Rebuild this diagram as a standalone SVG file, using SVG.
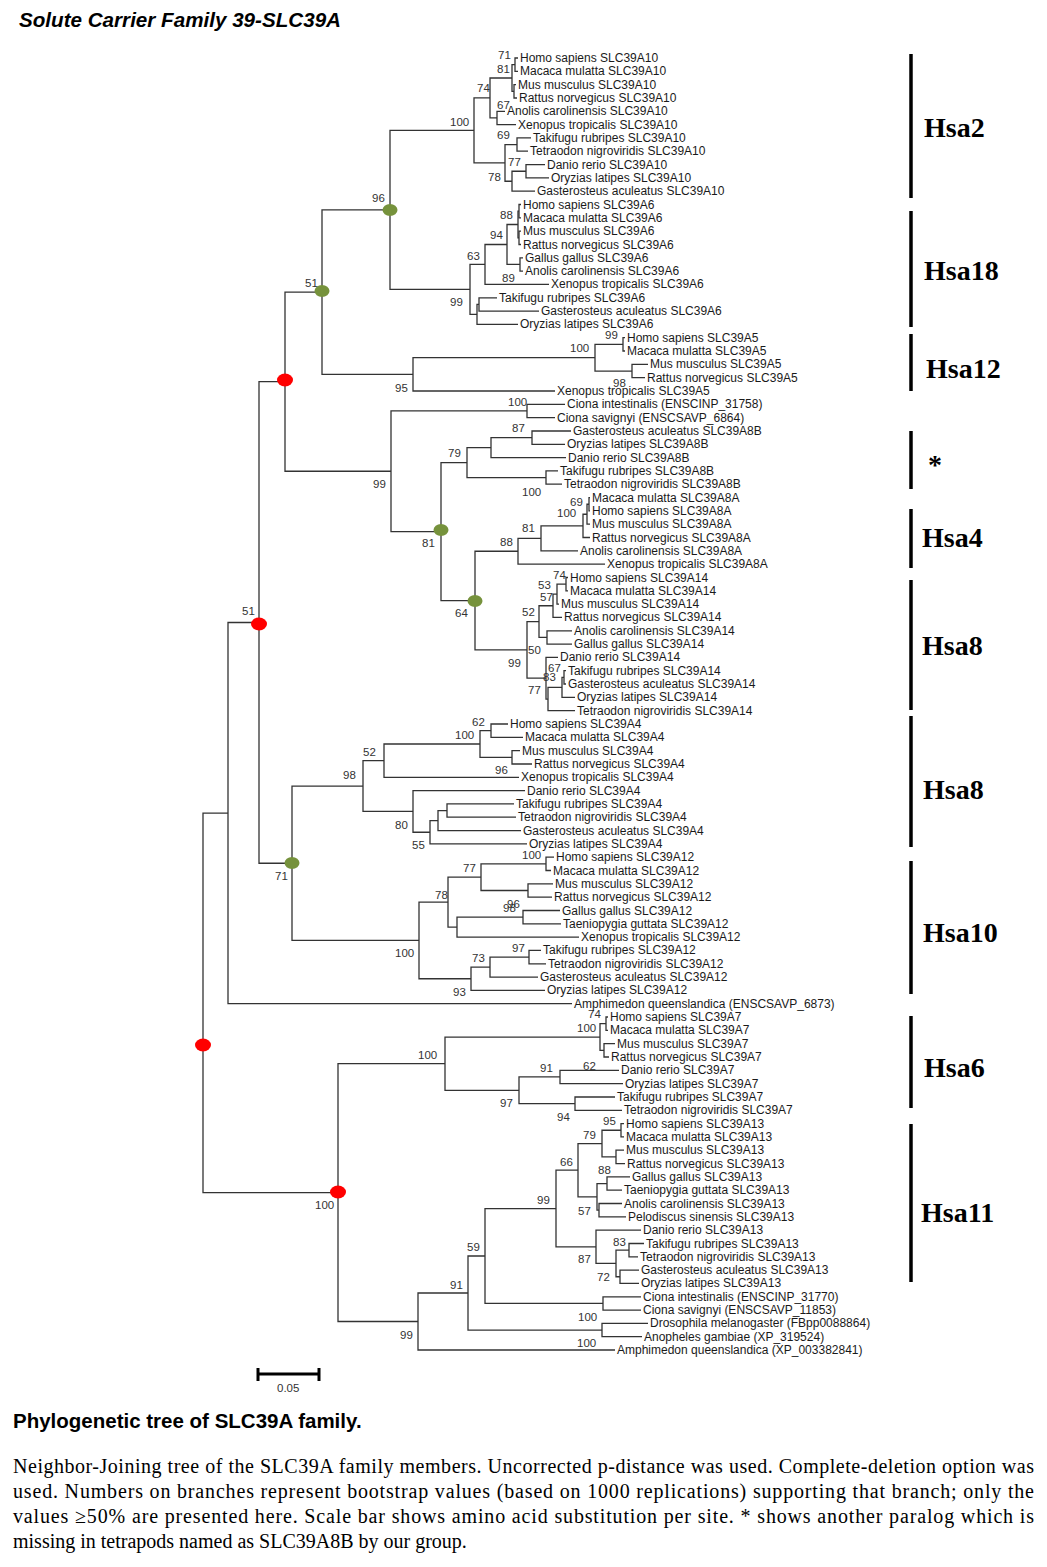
<svg xmlns="http://www.w3.org/2000/svg" width="1047" height="1567" viewBox="0 0 1047 1567">
<style>
.br{fill:none;stroke:#333;stroke-width:1.3}
.lf{font-family:"Liberation Sans",Arial,sans-serif;font-size:12px;fill:#1a1a1a}
.bs{font-family:"Liberation Sans",Arial,sans-serif;font-size:11.5px;fill:#333}
.bar{stroke:#000;stroke-width:3.5}
.hsa{font-family:"Liberation Serif","Times New Roman",serif;font-weight:bold;font-size:28px;fill:#000}
.red{fill:#ff0000}
.grn{fill:#76923c}
.ttl{font-family:"Liberation Sans",Arial,sans-serif;font-weight:bold;font-size:20.5px;fill:#000}
.cap{font-family:"Liberation Serif","Times New Roman",serif;font-size:20px;fill:#000}
</style>
<rect width="1047" height="1567" fill="#fff"/>
<text class="ttl" x="19" y="27" font-style="italic" textLength="322" lengthAdjust="spacingAndGlyphs">Solute Carrier Family 39-SLC39A</text>

<g id="connectors">
<path class="br" d="M518,58 H515 V71.3 H518"/>
<path class="br" d="M516,84.6 H514 V98 H517"/>
<path class="br" d="M515,64.65 H512 V91.3 H514"/>
<path class="br" d="M505,111.3 H497 V124.6 H516"/>
<path class="br" d="M512,77.98 H490 V117.95 H497"/>
<path class="br" d="M531,137.9 H517 V151.2 H528"/>
<path class="br" d="M545,164.6 H526 V177.9 H549"/>
<path class="br" d="M526,171.25 H512 V191.2 H535"/>
<path class="br" d="M517,144.55 H505 V181.23 H512"/>
<path class="br" d="M490,97.97 H474 V162.89 H505"/>
<path class="br" d="M521,204.5 H519 V217.8 H521"/>
<path class="br" d="M521,231.2 H519 V244.5 H521"/>
<path class="br" d="M519,211.15 H518 V237.85 H519"/>
<path class="br" d="M523,257.8 H520 V271.1 H523"/>
<path class="br" d="M518,224.5 H507 V264.45 H520"/>
<path class="br" d="M507,244.48 H485 V284.4 H549"/>
<path class="br" d="M497,297.8 H479 V311.1 H539"/>
<path class="br" d="M479,304.45 H477 V324.4 H518"/>
<path class="br" d="M485,264.44 H470 V314.43 H477"/>
<path class="br" d="M474,130.43 H390 V289.44 H470"/>
<path class="br" d="M625,337.7 H623 V351 H625"/>
<path class="br" d="M648,364.4 H632 V377.7 H645"/>
<path class="br" d="M623,344.35 H595 V371.05 H632"/>
<path class="br" d="M595,357.7 H413 V391 H555"/>
<path class="br" d="M390,209.94 H322 V374.35 H413"/>
<path class="br" d="M565,404.3 H527 V417.6 H555"/>
<path class="br" d="M571,431 H532 V444.3 H565"/>
<path class="br" d="M532,437.65 H491 V457.6 H566"/>
<path class="br" d="M558,470.9 H546 V484.2 H562"/>
<path class="br" d="M491,447.63 H467 V477.55 H546"/>
<path class="br" d="M590,497.6 H589 V510.9 H590"/>
<path class="br" d="M589,504.25 H587 V524.2 H590"/>
<path class="br" d="M587,514.23 H583 V537.5 H590"/>
<path class="br" d="M583,525.86 H541 V550.8 H578"/>
<path class="br" d="M541,538.33 H518 V564.2 H605"/>
<path class="br" d="M568,577.5 H566 V590.8 H568"/>
<path class="br" d="M566,584.15 H557 V604.1 H559"/>
<path class="br" d="M557,594.13 H553 V617.4 H562"/>
<path class="br" d="M572,630.8 H547 V644.1 H572"/>
<path class="br" d="M553,605.76 H539 V637.45 H547"/>
<path class="br" d="M566,670.7 H564 V684 H566"/>
<path class="br" d="M564,677.35 H562 V697.4 H575"/>
<path class="br" d="M562,687.38 H548 V710.7 H575"/>
<path class="br" d="M558,657.4 H546 V699.04 H548"/>
<path class="br" d="M539,621.6 H527 V678.22 H546"/>
<path class="br" d="M518,551.27 H475 V649.91 H527"/>
<path class="br" d="M467,462.59 H441 V600.59 H475"/>
<path class="br" d="M527,410.95 H391 V531.59 H441"/>
<path class="br" d="M322,292.15 H285 V471.27 H391"/>
<path class="br" d="M508,724 H491 V737.3 H523"/>
<path class="br" d="M520,750.6 H512 V764 H532"/>
<path class="br" d="M491,730.65 H480 V757.3 H512"/>
<path class="br" d="M480,743.98 H384 V777.3 H519"/>
<path class="br" d="M514,803.9 H447 V817.2 H516"/>
<path class="br" d="M447,810.55 H438 V830.6 H521"/>
<path class="br" d="M438,820.58 H430 V843.9 H527"/>
<path class="br" d="M525,790.6 H413 V832.24 H430"/>
<path class="br" d="M384,760.64 H363 V811.42 H413"/>
<path class="br" d="M554,857.2 H546 V870.5 H551"/>
<path class="br" d="M553,883.8 H528 V897.2 H552"/>
<path class="br" d="M546,863.85 H481 V890.5 H528"/>
<path class="br" d="M560,910.5 H523 V923.8 H561"/>
<path class="br" d="M523,917.15 H457 V937.1 H579"/>
<path class="br" d="M481,877.18 H448 V927.13 H457"/>
<path class="br" d="M541,950.4 H529 V963.8 H546"/>
<path class="br" d="M529,957.1 H490 V977.1 H538"/>
<path class="br" d="M490,967.1 H471 V990.4 H545"/>
<path class="br" d="M448,902.15 H419 V978.75 H471"/>
<path class="br" d="M363,786.03 H292 V940.45 H419"/>
<path class="br" d="M285,381.71 H259 V863.24 H292"/>
<path class="br" d="M259,622.48 H228 V1003.7 H572"/>
<path class="br" d="M608,1017 H606 V1030.4 H608"/>
<path class="br" d="M615,1043.7 H604 V1057 H609"/>
<path class="br" d="M606,1023.7 H600 V1050.35 H604"/>
<path class="br" d="M619,1070.3 H560 V1083.6 H623"/>
<path class="br" d="M615,1097 H575 V1110.3 H622"/>
<path class="br" d="M560,1076.95 H519 V1103.65 H575"/>
<path class="br" d="M600,1037.03 H445 V1090.3 H519"/>
<path class="br" d="M624,1123.6 H621 V1136.9 H624"/>
<path class="br" d="M624,1150.2 H616 V1163.6 H625"/>
<path class="br" d="M621,1130.25 H602 V1156.9 H616"/>
<path class="br" d="M630,1176.9 H607 V1190.2 H622"/>
<path class="br" d="M622,1203.5 H599 V1216.8 H626"/>
<path class="br" d="M607,1183.55 H597 V1210.15 H599"/>
<path class="br" d="M602,1143.58 H578 V1196.85 H597"/>
<path class="br" d="M644,1243.5 H629 V1256.8 H638"/>
<path class="br" d="M639,1270.1 H620 V1283.4 H639"/>
<path class="br" d="M629,1250.15 H616 V1276.75 H620"/>
<path class="br" d="M641,1230.2 H596 V1263.45 H616"/>
<path class="br" d="M578,1170.22 H556 V1246.83 H596"/>
<path class="br" d="M641,1296.8 H603 V1310.1 H641"/>
<path class="br" d="M556,1208.53 H485 V1303.45 H603"/>
<path class="br" d="M648,1323.4 H602 V1336.7 H642"/>
<path class="br" d="M485,1255.99 H468 V1330.05 H602"/>
<path class="br" d="M468,1293.02 H418 V1350 H615"/>
<path class="br" d="M445,1063.67 H338 V1321.51 H418"/>
<path class="br" d="M228,813.09 H203 V1192.59 H338"/>
</g>

<g id="markers">
<ellipse class="red" cx="203" cy="1045" rx="8" ry="6.5"/>
<ellipse class="red" cx="338" cy="1192" rx="8" ry="6.5"/>
<ellipse class="red" cx="285" cy="380" rx="8" ry="6.5"/>
<ellipse class="red" cx="259" cy="624" rx="8" ry="6.5"/>
<ellipse class="grn" cx="390" cy="210" rx="7.5" ry="6"/>
<ellipse class="grn" cx="322" cy="291" rx="7.5" ry="6"/>
<ellipse class="grn" cx="441" cy="530" rx="7.5" ry="6"/>
<ellipse class="grn" cx="475" cy="601" rx="7.5" ry="6"/>
<ellipse class="grn" cx="292" cy="863" rx="7.5" ry="6"/>
</g>

<g id="bootstrap">
<text class="bs" x="498" y="59">71</text>
<text class="bs" x="497" y="73">81</text>
<text class="bs" x="477" y="92">74</text>
<text class="bs" x="497" y="109">67</text>
<text class="bs" x="450" y="126">100</text>
<text class="bs" x="497" y="139">69</text>
<text class="bs" x="508" y="166">77</text>
<text class="bs" x="488" y="181">78</text>
<text class="bs" x="372" y="202">96</text>
<text class="bs" x="500" y="219">88</text>
<text class="bs" x="490" y="239">94</text>
<text class="bs" x="467" y="260">63</text>
<text class="bs" x="502" y="282">89</text>
<text class="bs" x="450" y="306">99</text>
<text class="bs" x="305" y="287">51</text>
<text class="bs" x="605" y="339">99</text>
<text class="bs" x="570" y="352">100</text>
<text class="bs" x="395" y="392">95</text>
<text class="bs" x="613" y="387">98</text>
<text class="bs" x="508" y="406">100</text>
<text class="bs" x="373" y="488">99</text>
<text class="bs" x="512" y="432">87</text>
<text class="bs" x="448" y="457">79</text>
<text class="bs" x="522" y="496">100</text>
<text class="bs" x="570" y="506">69</text>
<text class="bs" x="557" y="517">100</text>
<text class="bs" x="522" y="532">81</text>
<text class="bs" x="500" y="546">88</text>
<text class="bs" x="422" y="547">81</text>
<text class="bs" x="553" y="579">74</text>
<text class="bs" x="538" y="589">53</text>
<text class="bs" x="540" y="601">57</text>
<text class="bs" x="522" y="616">52</text>
<text class="bs" x="455" y="617">64</text>
<text class="bs" x="242" y="615">51</text>
<text class="bs" x="528" y="654">50</text>
<text class="bs" x="508" y="667">99</text>
<text class="bs" x="548" y="672">67</text>
<text class="bs" x="543" y="681">83</text>
<text class="bs" x="528" y="694">77</text>
<text class="bs" x="472" y="726">62</text>
<text class="bs" x="455" y="739">100</text>
<text class="bs" x="363" y="756">52</text>
<text class="bs" x="495" y="774">96</text>
<text class="bs" x="343" y="779">98</text>
<text class="bs" x="395" y="829">80</text>
<text class="bs" x="412" y="849">55</text>
<text class="bs" x="275" y="880">71</text>
<text class="bs" x="522" y="859">100</text>
<text class="bs" x="463" y="872">77</text>
<text class="bs" x="435" y="899">78</text>
<text class="bs" x="507" y="908">96</text>
<text class="bs" x="503" y="912">98</text>
<text class="bs" x="512" y="952">97</text>
<text class="bs" x="472" y="962">73</text>
<text class="bs" x="395" y="957">100</text>
<text class="bs" x="453" y="996">93</text>
<text class="bs" x="588" y="1018">74</text>
<text class="bs" x="577" y="1032">100</text>
<text class="bs" x="418" y="1059">100</text>
<text class="bs" x="540" y="1072">91</text>
<text class="bs" x="583" y="1070">62</text>
<text class="bs" x="500" y="1107">97</text>
<text class="bs" x="557" y="1121">94</text>
<text class="bs" x="603" y="1125">95</text>
<text class="bs" x="583" y="1139">79</text>
<text class="bs" x="560" y="1166">66</text>
<text class="bs" x="598" y="1174">88</text>
<text class="bs" x="537" y="1204">99</text>
<text class="bs" x="315" y="1209">100</text>
<text class="bs" x="578" y="1215">57</text>
<text class="bs" x="613" y="1246">83</text>
<text class="bs" x="578" y="1263">87</text>
<text class="bs" x="597" y="1281">72</text>
<text class="bs" x="467" y="1251">59</text>
<text class="bs" x="450" y="1289">91</text>
<text class="bs" x="578" y="1321">100</text>
<text class="bs" x="577" y="1347">100</text>
<text class="bs" x="400" y="1339">99</text>
</g>

<g id="leaf1"><text class="lf" x="520" y="62">Homo sapiens SLC39A10</text></g>
<g id="leaf2"><text class="lf" x="520" y="75.3">Macaca mulatta SLC39A10</text></g>
<g id="leaf3"><text class="lf" x="518" y="88.6">Mus musculus SLC39A10</text></g>
<g id="leaf4"><text class="lf" x="519" y="102">Rattus norvegicus SLC39A10</text></g>
<g id="leaf5"><text class="lf" x="507" y="115.3">Anolis carolinensis SLC39A10</text></g>
<g id="leaf6"><text class="lf" x="518" y="128.6">Xenopus tropicalis SLC39A10</text></g>
<g id="leaf7"><text class="lf" x="533" y="141.9">Takifugu rubripes SLC39A10</text></g>
<g id="leaf8"><text class="lf" x="530" y="155.2">Tetraodon nigroviridis SLC39A10</text></g>
<g id="leaf9"><text class="lf" x="547" y="168.6">Danio rerio SLC39A10</text></g>
<g id="leaf10"><text class="lf" x="551" y="181.9">Oryzias latipes SLC39A10</text></g>
<g id="leaf11"><text class="lf" x="537" y="195.2">Gasterosteus aculeatus SLC39A10</text></g>
<g id="leaf12"><text class="lf" x="523" y="208.5">Homo sapiens SLC39A6</text></g>
<g id="leaf13"><text class="lf" x="523" y="221.8">Macaca mulatta SLC39A6</text></g>
<g id="leaf14"><text class="lf" x="523" y="235.2">Mus musculus SLC39A6</text></g>
<g id="leaf15"><text class="lf" x="523" y="248.5">Rattus norvegicus SLC39A6</text></g>
<g id="leaf16"><text class="lf" x="525" y="261.8">Gallus gallus SLC39A6</text></g>
<g id="leaf17"><text class="lf" x="525" y="275.1">Anolis carolinensis SLC39A6</text></g>
<g id="leaf18"><text class="lf" x="551" y="288.4">Xenopus tropicalis SLC39A6</text></g>
<g id="leaf19"><text class="lf" x="499" y="301.8">Takifugu rubripes SLC39A6</text></g>
<g id="leaf20"><text class="lf" x="541" y="315.1">Gasterosteus aculeatus SLC39A6</text></g>
<g id="leaf21"><text class="lf" x="520" y="328.4">Oryzias latipes SLC39A6</text></g>
<g id="leaf22"><text class="lf" x="627" y="341.7">Homo sapiens SLC39A5</text></g>
<g id="leaf23"><text class="lf" x="627" y="355">Macaca mulatta SLC39A5</text></g>
<g id="leaf24"><text class="lf" x="650" y="368.4">Mus musculus SLC39A5</text></g>
<g id="leaf25"><text class="lf" x="647" y="381.7">Rattus norvegicus SLC39A5</text></g>
<g id="leaf26"><text class="lf" x="557" y="395">Xenopus tropicalis SLC39A5</text></g>
<g id="leaf27"><text class="lf" x="567" y="408.3">Ciona intestinalis (ENSCINP_31758)</text></g>
<g id="leaf28"><text class="lf" x="557" y="421.6">Ciona savignyi (ENSCSAVP_6864)</text></g>
<g id="leaf29"><text class="lf" x="573" y="435">Gasterosteus aculeatus SLC39A8B</text></g>
<g id="leaf30"><text class="lf" x="567" y="448.3">Oryzias latipes SLC39A8B</text></g>
<g id="leaf31"><text class="lf" x="568" y="461.6">Danio rerio SLC39A8B</text></g>
<g id="leaf32"><text class="lf" x="560" y="474.9">Takifugu rubripes SLC39A8B</text></g>
<g id="leaf33"><text class="lf" x="564" y="488.2">Tetraodon nigroviridis SLC39A8B</text></g>
<g id="leaf34"><text class="lf" x="592" y="501.6">Macaca mulatta SLC39A8A</text></g>
<g id="leaf35"><text class="lf" x="592" y="514.9">Homo sapiens SLC39A8A</text></g>
<g id="leaf36"><text class="lf" x="592" y="528.2">Mus musculus SLC39A8A</text></g>
<g id="leaf37"><text class="lf" x="592" y="541.5">Rattus norvegicus SLC39A8A</text></g>
<g id="leaf38"><text class="lf" x="580" y="554.8">Anolis carolinensis SLC39A8A</text></g>
<g id="leaf39"><text class="lf" x="607" y="568.2">Xenopus tropicalis SLC39A8A</text></g>
<g id="leaf40"><text class="lf" x="570" y="581.5">Homo sapiens SLC39A14</text></g>
<g id="leaf41"><text class="lf" x="570" y="594.8">Macaca mulatta SLC39A14</text></g>
<g id="leaf42"><text class="lf" x="561" y="608.1">Mus musculus SLC39A14</text></g>
<g id="leaf43"><text class="lf" x="564" y="621.4">Rattus norvegicus SLC39A14</text></g>
<g id="leaf44"><text class="lf" x="574" y="634.8">Anolis carolinensis SLC39A14</text></g>
<g id="leaf45"><text class="lf" x="574" y="648.1">Gallus gallus SLC39A14</text></g>
<g id="leaf46"><text class="lf" x="560" y="661.4">Danio rerio SLC39A14</text></g>
<g id="leaf47"><text class="lf" x="568" y="674.7">Takifugu rubripes SLC39A14</text></g>
<g id="leaf48"><text class="lf" x="568" y="688">Gasterosteus aculeatus SLC39A14</text></g>
<g id="leaf49"><text class="lf" x="577" y="701.4">Oryzias latipes SLC39A14</text></g>
<g id="leaf50"><text class="lf" x="577" y="714.7">Tetraodon nigroviridis SLC39A14</text></g>
<g id="leaf51"><text class="lf" x="510" y="728">Homo sapiens SLC39A4</text></g>
<g id="leaf52"><text class="lf" x="525" y="741.3">Macaca mulatta SLC39A4</text></g>
<g id="leaf53"><text class="lf" x="522" y="754.6">Mus musculus SLC39A4</text></g>
<g id="leaf54"><text class="lf" x="534" y="768">Rattus norvegicus SLC39A4</text></g>
<g id="leaf55"><text class="lf" x="521" y="781.3">Xenopus tropicalis SLC39A4</text></g>
<g id="leaf56"><text class="lf" x="527" y="794.6">Danio rerio SLC39A4</text></g>
<g id="leaf57"><text class="lf" x="516" y="807.9">Takifugu rubripes SLC39A4</text></g>
<g id="leaf58"><text class="lf" x="518" y="821.2">Tetraodon nigroviridis SLC39A4</text></g>
<g id="leaf59"><text class="lf" x="523" y="834.6">Gasterosteus aculeatus SLC39A4</text></g>
<g id="leaf60"><text class="lf" x="529" y="847.9">Oryzias latipes SLC39A4</text></g>
<g id="leaf61"><text class="lf" x="556" y="861.2">Homo sapiens SLC39A12</text></g>
<g id="leaf62"><text class="lf" x="553" y="874.5">Macaca mulatta SLC39A12</text></g>
<g id="leaf63"><text class="lf" x="555" y="887.8">Mus musculus SLC39A12</text></g>
<g id="leaf64"><text class="lf" x="554" y="901.2">Rattus norvegicus SLC39A12</text></g>
<g id="leaf65"><text class="lf" x="562" y="914.5">Gallus gallus SLC39A12</text></g>
<g id="leaf66"><text class="lf" x="563" y="927.8">Taeniopygia guttata SLC39A12</text></g>
<g id="leaf67"><text class="lf" x="581" y="941.1">Xenopus tropicalis SLC39A12</text></g>
<g id="leaf68"><text class="lf" x="543" y="954.4">Takifugu rubripes SLC39A12</text></g>
<g id="leaf69"><text class="lf" x="548" y="967.8">Tetraodon nigroviridis SLC39A12</text></g>
<g id="leaf70"><text class="lf" x="540" y="981.1">Gasterosteus aculeatus SLC39A12</text></g>
<g id="leaf71"><text class="lf" x="547" y="994.4">Oryzias latipes SLC39A12</text></g>
<g id="leaf72"><text class="lf" x="574" y="1007.7">Amphimedon queenslandica (ENSCSAVP_6873)</text></g>
<g id="leaf73"><text class="lf" x="610" y="1021">Homo sapiens SLC39A7</text></g>
<g id="leaf74"><text class="lf" x="610" y="1034.4">Macaca mulatta SLC39A7</text></g>
<g id="leaf75"><text class="lf" x="617" y="1047.7">Mus musculus SLC39A7</text></g>
<g id="leaf76"><text class="lf" x="611" y="1061">Rattus norvegicus SLC39A7</text></g>
<g id="leaf77"><text class="lf" x="621" y="1074.3">Danio rerio SLC39A7</text></g>
<g id="leaf78"><text class="lf" x="625" y="1087.6">Oryzias latipes SLC39A7</text></g>
<g id="leaf79"><text class="lf" x="617" y="1101">Takifugu rubripes SLC39A7</text></g>
<g id="leaf80"><text class="lf" x="624" y="1114.3">Tetraodon nigroviridis SLC39A7</text></g>
<g id="leaf81"><text class="lf" x="626" y="1127.6">Homo sapiens SLC39A13</text></g>
<g id="leaf82"><text class="lf" x="626" y="1140.9">Macaca mulatta SLC39A13</text></g>
<g id="leaf83"><text class="lf" x="626" y="1154.2">Mus musculus SLC39A13</text></g>
<g id="leaf84"><text class="lf" x="627" y="1167.6">Rattus norvegicus SLC39A13</text></g>
<g id="leaf85"><text class="lf" x="632" y="1180.9">Gallus gallus SLC39A13</text></g>
<g id="leaf86"><text class="lf" x="624" y="1194.2">Taeniopygia guttata SLC39A13</text></g>
<g id="leaf87"><text class="lf" x="624" y="1207.5">Anolis carolinensis SLC39A13</text></g>
<g id="leaf88"><text class="lf" x="628" y="1220.8">Pelodiscus sinensis SLC39A13</text></g>
<g id="leaf89"><text class="lf" x="643" y="1234.2">Danio rerio SLC39A13</text></g>
<g id="leaf90"><text class="lf" x="646" y="1247.5">Takifugu rubripes SLC39A13</text></g>
<g id="leaf91"><text class="lf" x="640" y="1260.8">Tetraodon nigroviridis SLC39A13</text></g>
<g id="leaf92"><text class="lf" x="641" y="1274.1">Gasterosteus aculeatus SLC39A13</text></g>
<g id="leaf93"><text class="lf" x="641" y="1287.4">Oryzias latipes SLC39A13</text></g>
<g id="leaf94"><text class="lf" x="643" y="1300.8">Ciona intestinalis (ENSCINP_31770)</text></g>
<g id="leaf95"><text class="lf" x="643" y="1314.1">Ciona savignyi (ENSCSAVP_11853)</text></g>
<g id="leaf96"><text class="lf" x="650" y="1327.4">Drosophila melanogaster (FBpp0088864)</text></g>
<g id="leaf97"><text class="lf" x="644" y="1340.7">Anopheles gambiae (XP_319524)</text></g>
<g id="leaf98"><text class="lf" x="617" y="1354">Amphimedon queenslandica (XP_003382841)</text></g>

<g id="groups">
<line class="bar" x1="911" y1="54" x2="911" y2="198"/>
<text class="hsa" x="924" y="137">Hsa2</text>
<line class="bar" x1="911" y1="211" x2="911" y2="327"/>
<text class="hsa" x="924" y="280">Hsa18</text>
<line class="bar" x1="911" y1="334" x2="911" y2="391"/>
<text class="hsa" x="926" y="378">Hsa12</text>
<line class="bar" x1="911" y1="431" x2="911" y2="489"/>
<text class="hsa" x="928" y="474">*</text>
<line class="bar" x1="911" y1="509" x2="911" y2="568"/>
<text class="hsa" x="922" y="547">Hsa4</text>
<line class="bar" x1="911" y1="580" x2="911" y2="710"/>
<text class="hsa" x="922" y="655">Hsa8</text>
<line class="bar" x1="911" y1="716" x2="911" y2="847"/>
<text class="hsa" x="923" y="799">Hsa8</text>
<line class="bar" x1="911" y1="861" x2="911" y2="994"/>
<text class="hsa" x="923" y="942">Hsa10</text>
<line class="bar" x1="911" y1="1016" x2="911" y2="1108"/>
<text class="hsa" x="924" y="1077">Hsa6</text>
<line class="bar" x1="911" y1="1124" x2="911" y2="1282"/>
<text class="hsa" x="921" y="1222">Hsa11</text>
</g>

<g id="scalebar">
<path d="M258,1374 H319 M258,1368 V1381 M319,1368 V1381" fill="none" stroke="#000" stroke-width="3"/>
<text class="bs" x="277" y="1392" font-size="11">0.05</text>
</g>

<text class="ttl" x="13" y="1428">Phylogenetic tree of SLC39A family.</text>
<text class="cap" x="13" y="1473" textLength="1021" lengthAdjust="spacing">Neighbor-Joining tree of the SLC39A family members. Uncorrected p-distance was used. Complete-deletion option was</text>
<text class="cap" x="13" y="1498" textLength="1021" lengthAdjust="spacing">used. Numbers on branches represent bootstrap values (based on 1000 replications) supporting that branch; only the</text>
<text class="cap" x="13" y="1523" textLength="1021" lengthAdjust="spacing">values ≥50% are presented here. Scale bar shows amino acid substitution per site. * shows another paralog which is</text>
<text class="cap" x="13" y="1548">missing in tetrapods named as SLC39A8B by our group.</text>
</svg>
